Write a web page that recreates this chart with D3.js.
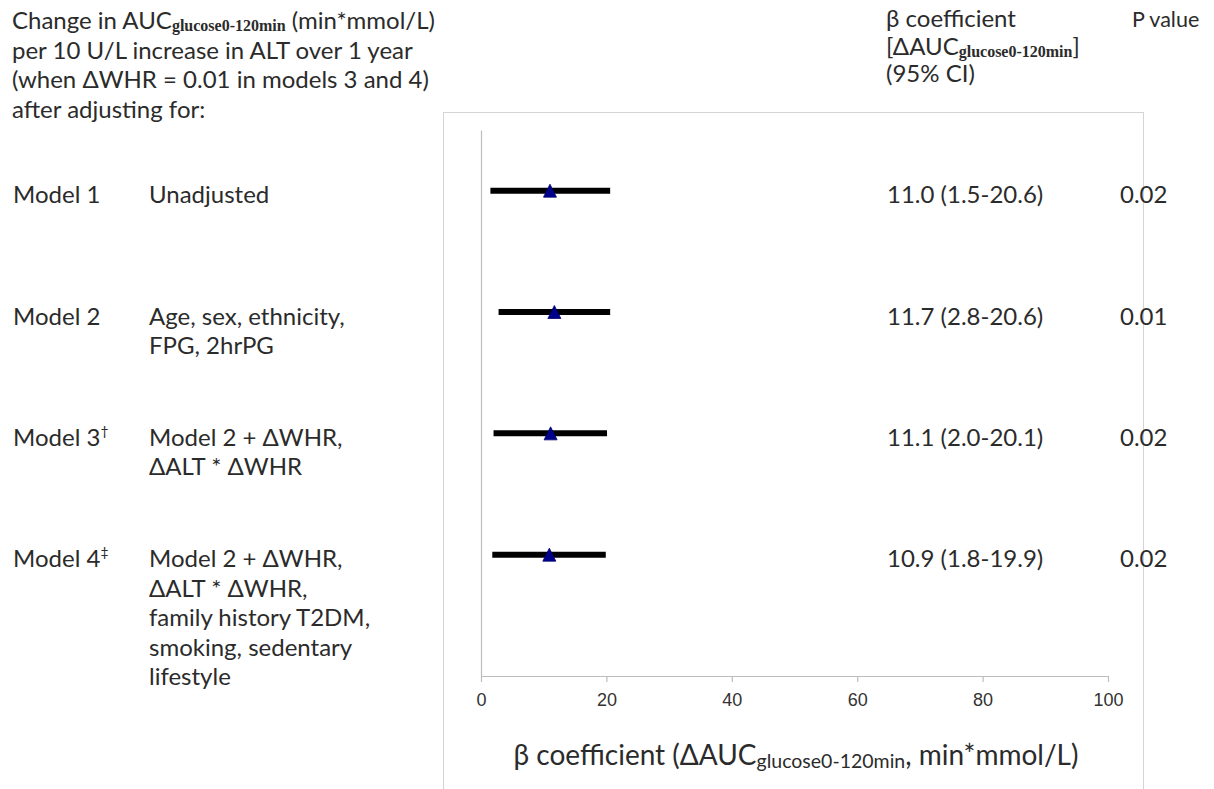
<!DOCTYPE html>
<html>
<head>
<meta charset="utf-8">
<script src="https://cdn.jsdelivr.net/npm/d3@7"></script>
<style>
  html, body { margin: 0; padding: 0; background: #fff; }
  svg { display: block; }
  .body-text { font-family: Lato, "Open Sans", sans-serif; fill: #2b2b2b; }
  .sub-serif { font-family: "Liberation Serif", "DejaVu Serif", serif; font-weight: bold; }
  .tick text { font-family: "Liberation Sans", Arial, sans-serif; fill: #333; }
</style>
</head>
<body>
<svg id="chart" width="1214" height="789"></svg>
<script>
// Model names and their adjustment sets
const models = ["Model 1", "Model 2", "Model 3", "Model 4"];
const modelMarks = ["", "", "\u2020", "\u2021"];
const adjustments = [
  ["Unadjusted"],
  ["Age, sex, ethnicity,", "FPG, 2hrPG"],
  ["Model 2 + \u0394WHR,", "\u0394ALT * \u0394WHR"],
  ["Model 2 + \u0394WHR,", "\u0394ALT * \u0394WHR,", "family history T2DM,", "smoking, sedentary", "lifestyle"]
];

// Beta coefficients with 95% confidence limits
const beta = [11.0, 11.7, 11.1, 10.9];
const ciLower = [1.5, 2.8, 2.0, 1.8];
const ciUpper = [20.6, 20.6, 20.1, 19.9];
const pValues = ["0.02", "0.01", "0.02", "0.02"];

// Axis ticks
const xTicks = [0, 20, 40, 60, 80, 100];

const svg = d3.select("#chart");
const FS = 24;        // body text size
const LH = 29.5;      // line height for stacked text

const x = d3.scaleLinear().domain([0, 100]).range([481, 1108]);
// rows sit at 4,3,2,1 on a 0..4.5 vertical scale
const y = d3.scaleLinear().domain([0, 4.5]).range([676, 130]);
const rowPos = models.map((d, i) => 4 - i);

// text line with optional subscript segment: parts = [[text, kind], ...]
function richText(g, px, py, parts, size, subSize, subCls) {
  const t = g.append("text").attr("class", "body-text")
    .attr("x", px).attr("y", py).style("font-size", size + "px");
  parts.forEach(([s, kind]) => {
    if (kind === "sub") {
      t.append("tspan").attr("class", subCls || null)
        .style("font-size", subSize + "px").attr("dy", subSize * 0.15).text(s);
    } else if (kind === "after") {
      t.append("tspan").attr("dy", -subSize * 0.15).text(s);
    } else {
      t.append("tspan").text(s);
    }
  });
  return t;
}

// Frame around the plot area
svg.append("rect")
  .attr("x", 443.5).attr("y", 112.5)
  .attr("width", 700).attr("height", 720)
  .attr("fill", "none").attr("stroke", "#d4d4d4").attr("stroke-width", 1);

// Left header
const hdr = svg.append("g");
richText(hdr, 12, 29, [["Change in AUC"], ["glucose0-120min", "sub"], [" (min*mmol/L)", "after"]], FS, 16, "sub-serif");
richText(hdr, 12, 58.5, [["per 10 U/L increase in ALT over 1 year"]], FS);
richText(hdr, 12, 88, [["(when \u0394WHR = 0.01 in models 3 and 4)"]], FS);
richText(hdr, 12, 117.5, [["after adjusting for:"]], FS);

// Right headers
richText(hdr, 886, 27, [["\u03B2 coefficient"]], FS);
richText(hdr, 886, 54.5, [["[\u0394AUC"], ["glucose0-120min", "sub"], ["]", "after"]], FS, 16, "sub-serif");
richText(hdr, 886, 82, [["(95% CI)"]], FS);
richText(hdr, 1132, 27, [["P value"]], 21.5);

// Axes
svg.append("g")
  .attr("transform", `translate(${x(0)},0)`)
  .call(d3.axisLeft(y).tickValues([]).tickSizeOuter(0))
  .call(g => g.select(".domain").attr("stroke", "#bdbdbd").attr("stroke-width", 1.2));

svg.append("g")
  .attr("transform", `translate(0,${y(0)})`)
  .call(d3.axisBottom(x).tickValues(xTicks).tickSize(6).tickSizeOuter(0).tickPadding(11))
  .call(g => g.select(".domain").attr("stroke", "#bdbdbd").attr("stroke-width", 1.2))
  .call(g => g.selectAll(".tick line").attr("stroke", "#bdbdbd").attr("stroke-width", 1.2))
  .call(g => g.selectAll(".tick text").style("font-size", "18px"));

// Axis title
const title = svg.append("g");
richText(title, 796, 765,
  [["\u03B2 coefficient (\u0394AUC"], ["glucose0-120min", "sub"], [", min*mmol/L)", "after"]],
  28, 19.5).attr("text-anchor", "middle");

// Rows
const rows = svg.append("g").selectAll("g.row")
  .data(models.map((m, i) => ({ m, i })))
  .join("g").attr("class", "row");

rows.each(function ({ m, i }) {
  const g = d3.select(this);
  const cy = y(rowPos[i]);
  const base = cy + 12.5;

  const lbl = g.append("text").attr("class", "body-text")
    .attr("x", 13).attr("y", base).style("font-size", FS + "px").text(m);
  if (modelMarks[i]) {
    lbl.append("tspan").attr("dy", -10).style("font-size", "14px").text(modelMarks[i]);
  }

  adjustments[i].forEach((line, k) => {
    g.append("text").attr("class", "body-text")
      .attr("x", 149).attr("y", base + k * LH)
      .style("font-size", FS + "px").text(line);
  });

  // confidence interval
  g.append("line")
    .attr("x1", x(ciLower[i])).attr("x2", x(ciUpper[i]))
    .attr("y1", cy).attr("y2", cy)
    .attr("stroke", "#000").attr("stroke-width", 6);

  // point estimate
  g.append("path")
    .attr("transform", `translate(${x(beta[i])},${cy})`)
    .attr("d", "M0,-6.5L6.5,6.5L-6.5,6.5Z")
    .attr("fill", "#00008b").attr("stroke", "#000070").attr("stroke-width", 0.8);

  g.append("text").attr("class", "body-text")
    .attr("x", 887).attr("y", base).style("font-size", FS + "px")
    .text(`${beta[i].toFixed(1)} (${ciLower[i].toFixed(1)}-${ciUpper[i].toFixed(1)})`);

  g.append("text").attr("class", "body-text")
    .attr("x", 1120).attr("y", base).style("font-size", FS + "px")
    .text(pValues[i]);
});
</script>
</body>
</html>
